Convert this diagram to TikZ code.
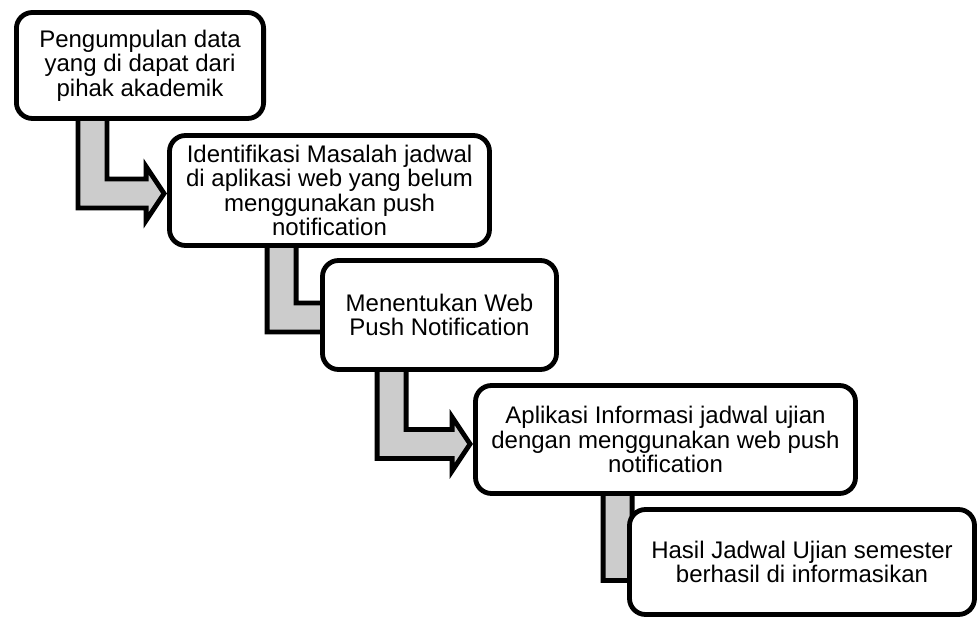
\documentclass[tikz,border=0pt]{standalone}
\usepackage{fontspec}
\setmainfont{Liberation Sans}
\usetikzlibrary{calc,backgrounds}

\definecolor{arrowgray}{RGB}{204,204,204}

\tikzset{
  stepbox/.style={draw=black, fill=white, rectangle, rounded corners=8pt, line width=2.4pt,
    align=center, inner sep=4pt, font=\fontsize{12}{12.2}\selectfont},
  arrowshape/.style={draw=black, fill=arrowgray, line width=2.4pt, line join=miter}
}

% bent arrow: #1 from, #2 to, #3 shaft offset, #4 tip offset, #5 shift of the shaft centre
\newcommand{\bentarrow}[5]{%
  \coordinate (top) at ($(#1.south west)+(#3,-6)$);
  \coordinate (tip) at ($(#2.west)+(#4,#5)$);
  \coordinate (mid) at (top |- tip);
  \draw[arrowshape] (top) -- ($(mid)+(0,14.5)$) -- ($(tip)+(-18,14.5)$) -- ($(tip)+(-18,27)$)
    -- (tip) -- ($(tip)+(-18,-27)$) -- ($(tip)+(-18,-14.5)$) -- ($(mid)+(29,-14.5)$)
    -- ($(top)+(29,0)$) -- cycle;
}

\begin{document}
\begin{tikzpicture}[x=0.5pt, y=-0.5pt]
    \useasboundingbox (0,0) rectangle (979,619);

    % The steps
    \node[stepbox, minimum width=123.6pt, minimum height=53pt] (data) at (140,65.5)
        {Pengumpulan data\\yang di dapat dari\\pihak akademik};
    \node[stepbox, minimum width=160pt, minimum height=55pt] (masalah) at (329.5,190.5)
        {Identifikasi Masalah jadwal\\di aplikasi web yang belum\\menggunakan push\\notification};
    \node[stepbox, minimum width=117pt, minimum height=54.5pt] (webpush) at (439.5,315)
        {Menentukan Web\\Push Notification};
    \node[stepbox, minimum width=190pt, minimum height=54pt] (aplikasi) at (665.5,439.5)
        {Aplikasi Informasi jadwal ujian\\dengan menggunakan web push\\notification};
    \node[stepbox, minimum width=172.5pt, minimum height=52.5pt] (hasil) at (802,562)
        {Hasil Jadwal Ujian semester\\berhasil di informasikan};

    % Arrows behind the boxes
    \begin{pgfonlayer}{background}
        \bentarrow{data}{masalah}{64}{-3}{3}
        \bentarrow{masalah}{webpush}{100}{30}{2.5}
        \bentarrow{webpush}{aplikasi}{57}{-3}{4.5}
        \bentarrow{aplikasi}{hasil}{130}{30}{4}
    \end{pgfonlayer}
\end{tikzpicture}
\end{document}
